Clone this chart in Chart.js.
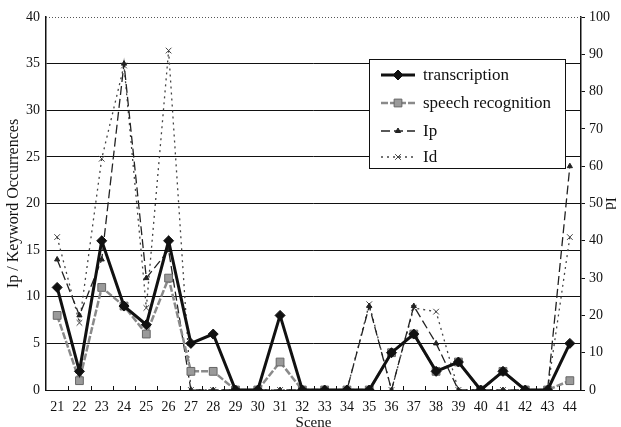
<!DOCTYPE html>
<html>
<head>
<meta charset="utf-8">
<script src="https://cdn.jsdelivr.net/npm/chart.js@4.4.1/dist/chart.umd.min.js"></script>
<style>
  html, body { margin: 0; padding: 0; background: #fff; }
</style>
</head>
<body>
<canvas id="chart" width="621" height="427"></canvas>
<script>
// Scene-by-scene keyword occurrences, Ip (left axis) and Id (right axis).
var scenes = ["21", "22", "23", "24", "25", "26", "27", "28", "29", "30", "31", "32",
  "33", "34", "35", "36", "37", "38", "39", "40", "41", "42", "43", "44"];
var transcription = [11, 2, 16, 9, 7, 16, 5, 6, 0, 0, 8, 0, 0, 0, 0, 4, 6, 2, 3, 0, 2, 0, 0, 5];
var speechRecognition = [8, 1, 11, 9, 6, 12, 2, 2, 0, 0, 3, 0, 0, 0, 0, 4, 6, 2, 3, 0, 2, 0, 0, 1];
var ip = [14, 8, 14, 35, 12, 15, 0, 0, 0, 0, 0, 0, 0, 0, 9, 0, 9, 5, 0, 0, 0, 0, 0, 24];
var id = [41, 18, 62, 87, 22, 91, 0, 0, 0, 0, 0, 0, 0, 0, 23, 0, 22, 21, 0, 0, 0, 0, 0, 41];

var leftTicks = [0, 5, 10, 15, 20, 25, 30, 35, 40];
var rightTicks = [0, 10, 20, 30, 40, 50, 60, 70, 80, 90, 100];

var SERIF = "'Liberation Serif', 'DejaVu Serif', serif";
var INK = "#111";
var GRAY = "#8a8a8a";

// Legend box drawn inside the plot, the dotted top border and inward x ticks.
var boxLegend = {
  id: "boxLegend",
  afterDraw: function (chart) {
    var ctx = chart.ctx;
    var a = chart.chartArea;
    ctx.save();
    // dotted top edge
    ctx.strokeStyle = "#555";
    ctx.lineWidth = 1;
    ctx.setLineDash([1, 2]);
    ctx.beginPath();
    ctx.moveTo(a.left, a.top + 0.5);
    ctx.lineTo(a.right, a.top + 0.5);
    ctx.stroke();
    ctx.setLineDash([]);

    // short inward ticks between scenes
    var n = scenes.length;
    var step = (a.right - a.left) / n;
    ctx.strokeStyle = INK;
    ctx.beginPath();
    for (var k = 1; k < n; k++) {
      var tx = Math.round(a.left + k * step) + 0.5;
      ctx.moveTo(tx, a.bottom);
      ctx.lineTo(tx, a.bottom - 4);
    }
    ctx.stroke();

    var bx = 369, by = 59, bw = 196, bh = 109;
    ctx.fillStyle = "#fff";
    ctx.fillRect(bx, by, bw, bh);
    ctx.strokeStyle = INK;
    ctx.lineWidth = 1;
    ctx.strokeRect(bx + 0.5, by + 0.5, bw, bh);

    var rows = [75, 103, 131, 157];
    ctx.font = "17px " + SERIF;
    ctx.textBaseline = "middle";
    chart.data.datasets.forEach(function (ds, i) {
      var y = rows[i];
      ctx.strokeStyle = ds.borderColor;
      ctx.lineWidth = ds.borderWidth;
      ctx.setLineDash(ds.borderDash || []);
      ctx.beginPath();
      ctx.moveTo(381, y);
      ctx.lineTo(415, y);
      ctx.stroke();
      ctx.setLineDash([]);
      ctx.fillStyle = ds.pointBackgroundColor;
      ctx.strokeStyle = ds.pointBorderColor;
      ctx.lineWidth = ds.pointBorderWidth;
      Chart.helpers.drawPoint(ctx, {
        pointStyle: ds.pointStyle,
        radius: ds.pointRadius,
        rotation: 0,
        borderWidth: ds.pointBorderWidth
      }, 398, y);
      ctx.fillStyle = INK;
      ctx.fillText(ds.label, 423, y + 1);
    });
    ctx.restore();
  }
};

new Chart(document.getElementById("chart"), {
  type: "line",
  data: {
    labels: scenes,
    datasets: [
      {
        label: "transcription",
        data: transcription,
        yAxisID: "y",
        borderColor: INK,
        borderWidth: 3,
        pointStyle: "rectRot",
        pointRadius: 5,
        pointBackgroundColor: INK,
        pointBorderColor: INK,
        pointBorderWidth: 1,
        order: 1
      },
      {
        label: "speech recognition",
        data: speechRecognition,
        yAxisID: "y",
        borderColor: GRAY,
        borderWidth: 2.5,
        borderDash: [7, 2],
        pointStyle: "rect",
        pointRadius: 5.5,
        pointBackgroundColor: "#9a9a9a",
        pointBorderColor: "#666",
        pointBorderWidth: 1,
        order: 2
      },
      {
        label: "Ip",
        data: ip,
        yAxisID: "y",
        borderColor: "#222",
        borderWidth: 1.3,
        borderDash: [9, 4],
        pointStyle: "triangle",
        pointRadius: 3,
        pointBackgroundColor: "#222",
        pointBorderColor: "#222",
        pointBorderWidth: 1,
        order: 3
      },
      {
        label: "Id",
        data: id,
        yAxisID: "y2",
        borderColor: "#444",
        borderWidth: 1.3,
        borderDash: [2, 4],
        pointStyle: "crossRot",
        pointRadius: 4,
        pointBackgroundColor: "#444",
        pointBorderColor: "#444",
        pointBorderWidth: 1,
        order: 4
      }
    ]
  },
  options: {
    responsive: false,
    animation: false,
    layout: { padding: { top: 17 } },
    elements: { line: { tension: 0 } },
    plugins: {
      legend: { display: false },
      tooltip: { enabled: false }
    },
    scales: {
      x: {
        offset: true,
        grid: { display: false },
        border: { color: INK, width: 1 },
        ticks: { color: INK, font: { family: SERIF, size: 14 }, padding: 1, maxRotation: 0, autoSkip: false },
        title: { display: true, text: "Scene", color: INK, font: { family: SERIF, size: 15 }, padding: { top: 0, bottom: -5 } },
        afterFit: function (s) { s.height = 37; }
      },
      y: {
        position: "left",
        min: 0,
        max: 40,
        afterBuildTicks: function (s) { s.ticks = leftTicks.map(function (v) { return { value: v }; }); },
        grid: {
          color: function (c) { return c.tick && c.tick.value === 40 ? "rgba(0,0,0,0)" : INK; },
          lineWidth: 1,
          drawTicks: false
        },
        border: { color: INK, width: 1.5 },
        ticks: { color: INK, font: { family: SERIF, size: 14 }, padding: 6 },
        title: { display: true, text: "Ip / Keyword Occurrences", color: INK, font: { family: SERIF, size: 16 }, padding: { top: 4, bottom: 0 } },
        afterFit: function (s) { s.width = 46; }
      },
      y2: {
        position: "right",
        min: 0,
        max: 100,
        afterBuildTicks: function (s) { s.ticks = rightTicks.map(function (v) { return { value: v }; }); },
        grid: { drawOnChartArea: false, color: INK, tickLength: 4 },
        border: { color: INK, width: 1.5 },
        ticks: { color: INK, font: { family: SERIF, size: 14 }, padding: 4 },
        title: { display: true, text: "Id", color: INK, font: { family: SERIF, size: 15 }, padding: { top: 2, bottom: 0 } },
        afterFit: function (s) { s.width = 40; }
      }
    }
  },
  plugins: [boxLegend]
});
</script>
</body>
</html>
